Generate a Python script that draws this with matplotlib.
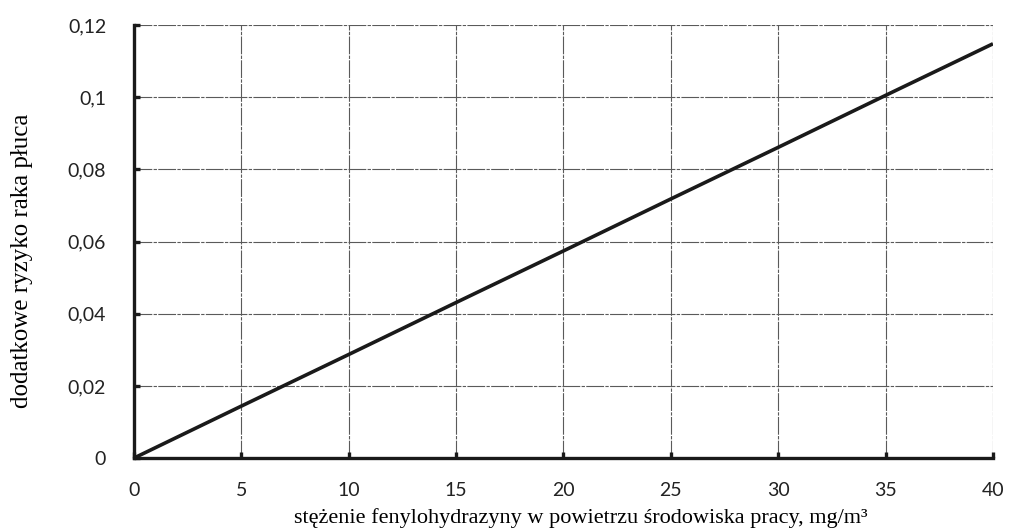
import matplotlib
matplotlib.use("Agg")
import matplotlib.pyplot as plt

stezenie = [0, 5, 10, 15, 20, 25, 30, 35, 40]
ryzyko = [0, 0.0144, 0.0287, 0.0431, 0.0574, 0.0718, 0.0861, 0.1005, 0.1148]
xticks = [0, 5, 10, 15, 20, 25, 30, 35, 40]
yticks = [0, 0.02, 0.04, 0.06, 0.08, 0.1, 0.12]
ylabels = ["0", "0,02", "0,04", "0,06", "0,08", "0,1", "0,12"]

fig = plt.figure(figsize=(10.09, 5.32), dpi=100)
ax = fig.add_axes([0.1328, 0.139, 0.8513, 0.814])

ax.plot(stezenie, ryzyko, color="#1a1a1a", lw=2.6, solid_capstyle="butt", zorder=3)

ax.set_xlim(0, 40)
ax.set_ylim(0, 0.12)
ax.set_xticks(xticks)
ax.set_yticks(yticks)
ax.set_yticklabels(ylabels)

ax.grid(True, color="#5a5a5a", lw=0.8, linestyle=(0, (16, 1.2, 3, 1.2)))
ax.spines["top"].set_visible(False)
ax.spines["right"].set_visible(False)
for s in ["left", "bottom"]:
    ax.spines[s].set_linewidth(2.4)
    ax.spines[s].set_color("#1a1a1a")

ax.tick_params(direction="in", length=4, width=2.4, color="#1a1a1a",
               labelsize=14)
ax.tick_params(axis="x", pad=17)
ax.tick_params(axis="y", pad=20)
for lab in ax.get_xticklabels() + ax.get_yticklabels():
    lab.set_family("Lato")
    lab.set_color("#222222")

ax.set_xlabel("stężenie fenylohydrazyny w powietrzu środowiska pracy, mg/m³",
              family="Liberation Serif", fontsize=16, va="center")
ax.set_ylabel("dodatkowe ryzyko raka płuca",
              family="Liberation Serif", fontsize=18, va="center")
ax.xaxis.set_label_coords(0.520, -0.138)
ax.yaxis.set_label_coords(-0.130, 0.455)

fig.savefig("out.png", dpi=100)
